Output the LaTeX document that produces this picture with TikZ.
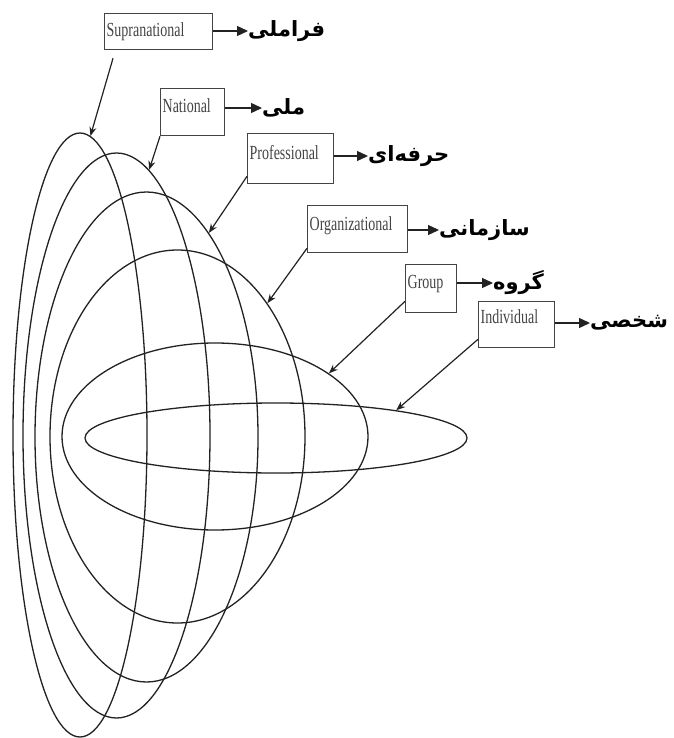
\documentclass[tikz,border=0pt]{standalone}
\usepackage{fontspec}
\usetikzlibrary{shapes.geometric,arrows.meta}
\setmainfont{Liberation Serif}
\newfontfamily\boxfont[FakeStretch=0.7]{Liberation Serif}
\newfontfamily\farsi[Script=Arabic]{DejaVu Sans}
\TeXXeTstate=1
\definecolor{ink}{HTML}{222222}
\definecolor{boxgray}{HTML}{444444}

\tikzstyle{layer}=[draw=ink,ellipse,line width=1.3pt,inner sep=0pt]
\tikzstyle{level}=[draw=boxgray,line width=1.3pt,anchor=north west,inner xsep=2pt,inner ysep=0pt,align=left,text=boxgray,font=\boxfont\fontsize{20}{20}\selectfont]
\tikzstyle{fa}=[anchor=west,inner sep=0pt,font=\farsi\bfseries\fontsize{21}{24}\selectfont]
\tikzstyle{pointer}=[draw=ink,line width=1.2pt,-{Stealth[length=9pt,width=7pt]}]
\tikzstyle{toname}=[draw=ink,line width=1.3pt,-{Triangle[length=11pt,width=10pt]}]

\begin{document}
\begin{tikzpicture}[x=1pt,y=-1pt]
    \useasboundingbox (0,0) rectangle (673,738);
    % First we draw the nested layers
    \foreach \pos/\name/\w/\h in {{(80,435)/lsup/134/604}, {(116.5,435.5)/lnat/187/565}, {(146.5,437)/lprof/223/490}, {(177.5,436.5)/lorg/255/373}, {(215,436.5)/lgrp/306/187}, {(276,438)/lind/382/70}}
        \node[layer,minimum width=\w pt,minimum height=\h pt] (\name) at \pos {};
    % Then the English boxes
    \foreach \pos/\name/\w/\th/\td/\txt in {{(104,13)/sup/104/23/13/Supranational}, {(160,88)/nat/60/24/23/National}, {(247,133)/prof/82/26/24/Professional}, {(307,205)/org/96/25/22/Organizational}, {(405,264)/grp/47/24/24/Group}, {(478,301)/ind/72/22/24/Individual}}
        \node[level,text width=\w pt,text height=\th pt,text depth=\td pt] (\name) at \pos {\txt};
    % Persian names
    \foreach \pos/\name/\txt in {{(248,31)/fsup/فراملی}, {(262,108)/fnat/ملی}, {(368,156)/fprof/حرفه‌ای}, {(439,230)/forg/سازمانی}, {(493,283)/fgrp/گروه}, {(590,323)/find/شخصی}}
        \node[fa] (\name) at \pos {\beginR\txt\endR};
    % Connect boxes with names and layers
    \foreach \source/\dx/\dy/\dest in {sup/9/-8/lsup.88, nat/0/0/lnat.83, prof/0/8/lprof.73, org/0/5/lorg.56, grp/0/12/lgrp.29, ind/0/9/lind.13}
    {
        \path[toname] (\source.east |- f\source.west) -- (f\source.west);
        \path[pointer] ([xshift=\dx pt,yshift=\dy pt]\source.south west) -- (\dest);
    }
\end{tikzpicture}
\end{document}
